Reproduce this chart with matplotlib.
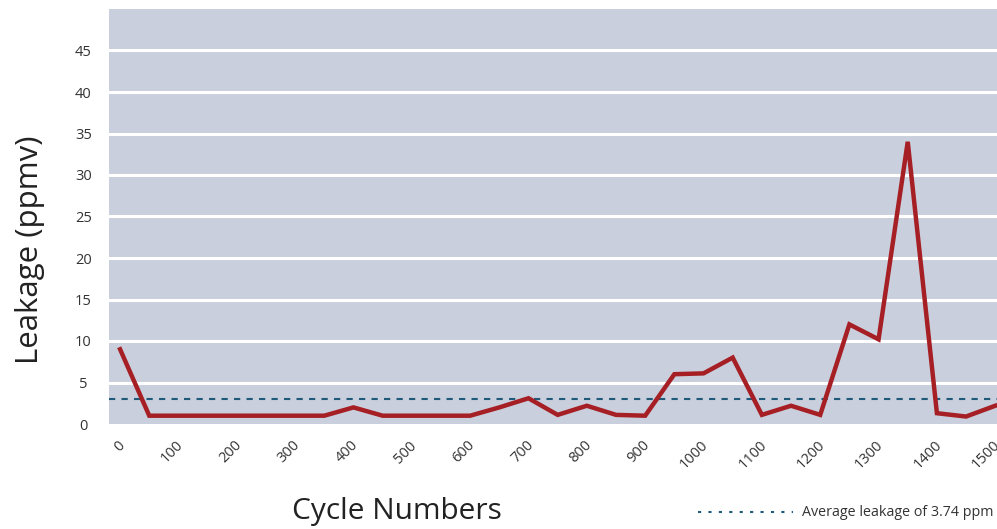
import matplotlib
matplotlib.use("Agg")
import matplotlib.pyplot as plt
from matplotlib.lines import Line2D
import matplotlib.transforms as mtransforms

plt.rcParams['font.family'] = ['Open Sans', 'DejaVu Sans']

cycles = [0, 50, 100, 150, 200, 250, 300, 350, 400, 450, 500, 550, 600, 650, 700,
          750, 800, 850, 900, 950, 1000, 1050, 1100, 1150, 1200, 1250, 1300, 1350,
          1400, 1450, 1500]
leakage = [9.0, 1.0, 1.0, 1.0, 1.0, 1.0, 1.0, 1.0, 2.0, 1.0, 1.0, 1.0, 1.0, 2.0, 3.1,
           1.1, 2.2, 1.1, 1.0, 6.0, 6.1, 8.0, 1.1, 2.2, 1.1, 12.0, 10.2, 34.0,
           1.3, 0.9, 2.2]
avg_line_value = 3.0
avg_label = "Average leakage of 3.74 ppm"
xticks = list(range(0, 1501, 100))
yticks = [0, 5, 10, 15, 20, 25, 30, 35, 40, 45]

fig = plt.figure(figsize=(9.97, 5.29), dpi=100)
ax = fig.add_axes([109/997, 105/529, 888/997, 415/529])
ax.set_facecolor('#C9CFDC')
for s in ax.spines.values():
    s.set_visible(False)

ax.set_xlim(-19, 1503)
ax.set_ylim(0, 50)
ax.set_yticks(yticks)
ax.set_xticks(xticks)
ax.set_xticklabels([str(t) for t in xticks], rotation=45, ha='right', va='top',
                   fontsize=10.5, color='#333333')
ax.set_yticklabels([str(t) for t in yticks], fontsize=10.5, color='#333333')
ax.tick_params(axis='both', length=0)
ax.tick_params(axis='x', pad=10)
ax.tick_params(axis='y', pad=18.5)
for t in ax.get_yticklabels():
    t.set_horizontalalignment('center')
offset = mtransforms.ScaledTranslation(8/100, 0, fig.dpi_scale_trans)
for t in ax.get_xticklabels():
    t.set_transform(t.get_transform() + offset)

for y in yticks[1:]:
    ax.axhline(y, color='white', linewidth=2.2, zorder=1)

ax.axhline(avg_line_value, color='#1F5A7A', linewidth=1.5, linestyle=(0, (3, 3)), zorder=2)
ax.plot(cycles, leakage, color='#A51F24', linewidth=3.2, solid_joinstyle='miter', zorder=3)

fig.text(30/997, 1 - 250/529, 'Leakage (ppmv)', rotation=90, ha='center', va='center',
         fontsize=22.5, color='#222222')
fig.text(397/997, 1 - 511/529, 'Cycle Numbers', ha='center', va='center',
         fontsize=21.5, color='#222222')

fig.add_artist(Line2D([698/997, 793/997], [1 - 512/529, 1 - 512/529],
                      color='#1F5A7A', linewidth=1.5, linestyle=(0, (1.5, 3.5))))
fig.text(802/997, 1 - 512/529, avg_label, ha='left', va='center',
         fontsize=10.3, color='#333333')

fig.savefig('out.png', dpi=100)
